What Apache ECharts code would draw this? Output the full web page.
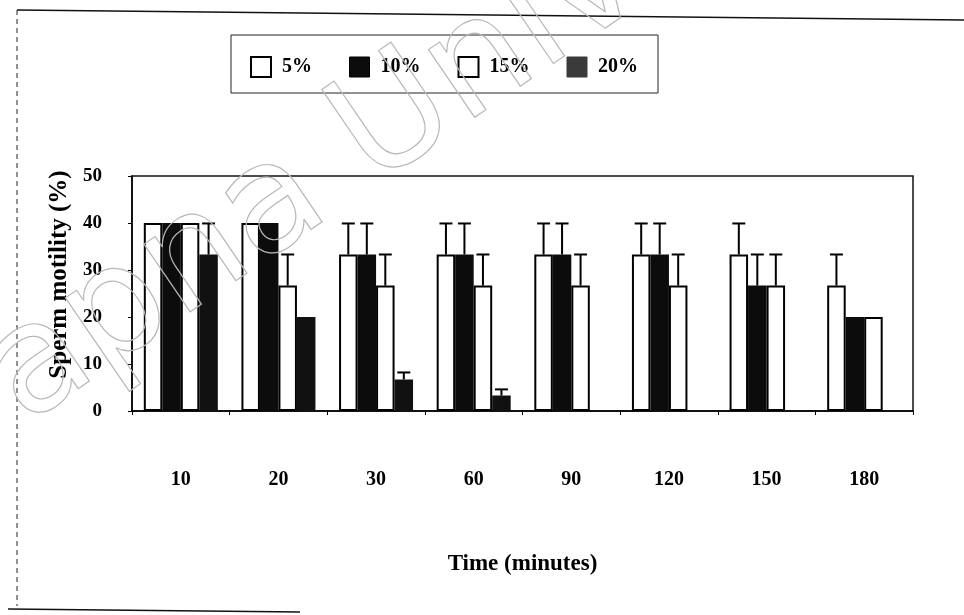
<!DOCTYPE html>
<html>
<head>
<meta charset="utf-8">
<script src="https://cdn.jsdelivr.net/npm/echarts@6/dist/echarts.min.js"></script>
<style>
html,body{margin:0;padding:0;background:#fff;}
#chart{width:964px;height:615px;}
</style>
</head>
<body>
<div id="chart"></div>
<script>
// ---- data ----
const categories = ['10', '20', '30', '60', '90', '120', '150', '180'];
const seriesNames = ['5%', '10%', '15%', '20%'];
const motility5  = [40, 40, 33.3, 33.3, 33.3, 33.3, 33.3, 26.7];
const motility10 = [40, 40, 33.3, 33.3, 33.3, 33.3, 26.7, 20];
const motility15 = [40, 26.7, 26.7, 26.7, 26.7, 26.7, 26.7, 20];
const motility20 = [33.3, 20, 6.7, 3.3, 0, 0, 0, 0];
const err5  = [0, 0, 6.6, 6.6, 6.6, 6.6, 6.6, 6.6];
const err10 = [0, 0, 6.6, 6.6, 6.6, 6.6, 6.6, 0];
const err15 = [0, 6.6, 6.6, 6.6, 6.6, 6.6, 6.6, 0];
const err20 = [6.6, 0, 1.5, 1.3, 0, 0, 0, 0];
const yTicks = [0, 10, 20, 30, 40, 50];

const values = [motility5, motility10, motility15, motility20];
const errors = [err5, err10, err15, err20];
const FONT = '"Liberation Serif", "Times New Roman", serif';
const BAR_W = 18.5;
const fills = ['#ffffff', '#0c0c0c', '#ffffff', '#111111'];

const chart = echarts.init(document.getElementById('chart'), null, {renderer: 'canvas'});

const barSeries = seriesNames.map((name, i) => ({
  name: name,
  type: 'bar',
  data: values[i],
  barWidth: BAR_W,
  barGap: '0%',
  itemStyle: {
    color: fills[i],
    borderColor: '#000',
    borderWidth: (fills[i] === '#ffffff') ? 2 : 0
  },
  z: 2
}));

const errSeries = seriesNames.map((name, i) => ({
  name: name + ' err',
  type: 'custom',
  data: values[i].map((v, k) => [k, v, errors[i][k]]),
  z: 3,
  silent: true,
  renderItem: function (params, api) {
    const k = api.value(0), v = api.value(1), e = api.value(2);
    if (!e) return null;
    const base = api.coord([k, v]);
    const top = api.coord([k, v + e]);
    const x = base[0] + (i - 1.5) * BAR_W;
    const cap = 6.5;
    const style = {stroke: '#000', lineWidth: 2};
    return {
      type: 'group',
      children: [
        {type: 'line', shape: {x1: x, y1: base[1], x2: x, y2: top[1]}, style: style},
        {type: 'line', shape: {x1: x - cap, y1: top[1], x2: x + cap, y2: top[1]}, style: style}
      ]
    };
  }
}));

const option = {
  backgroundColor: '#ffffff',
  animation: false,
  textStyle: {fontFamily: FONT},
  grid: {left: 132, right: 51, top: 176, bottom: 204, show: true, borderColor: '#111', borderWidth: 1.5},
  legend: {
    left: 231, top: 35,
    orient: 'horizontal',
    padding: [21, 20, 15, 19],
    itemWidth: 20, itemHeight: 20,
    itemGap: 37,
    borderColor: '#222', borderWidth: 1,
    textStyle: {fontFamily: FONT, fontWeight: 'bold', fontSize: 20, color: '#000', padding: [0, 0, 0, 6]},
    data: [
      {name: '5%', icon: 'rect', itemStyle: {color: '#fff', borderColor: '#000', borderWidth: 2}},
      {name: '10%', icon: 'rect', itemStyle: {color: '#0c0c0c', borderColor: '#000', borderWidth: 1}},
      {name: '15%', icon: 'rect', itemStyle: {color: '#fff', borderColor: '#000', borderWidth: 2}},
      {name: '20%', icon: 'rect', itemStyle: {color: '#3a3a3a', borderColor: '#3a3a3a', borderWidth: 1}}
    ]
  },
  xAxis: {
    type: 'category',
    data: categories,
    boundaryGap: true,
    name: 'Time (minutes)',
    nameLocation: 'middle',
    nameGap: 142,
    nameTextStyle: {fontFamily: FONT, fontWeight: 'bold', fontSize: 23, color: '#000'},
    axisLine: {lineStyle: {color: '#000', width: 1.5}},
    axisTick: {show: true, length: 4, lineStyle: {color: '#000'}},
    axisLabel: {margin: 59, fontFamily: FONT, fontWeight: 'bold', fontSize: 20, color: '#000'}
  },
  yAxis: {
    type: 'value',
    min: 0, max: 50, interval: 10,
    name: 'Sperm motility (%)',
    nameLocation: 'middle',
    nameGap: 56,
    nameTextStyle: {fontFamily: FONT, fontWeight: 'bold', fontSize: 25, color: '#000', padding: [0, 0, 0, 38]},
    axisLine: {show: true, lineStyle: {color: '#000', width: 1.5}},
    axisTick: {show: true, length: 4, lineStyle: {color: '#000'}},
    splitLine: {show: false},
    axisLabel: {margin: 30, fontFamily: FONT, fontWeight: 'bold', fontSize: 19, color: '#000',
      formatter: function (v) { return yTicks.indexOf(v) >= 0 ? String(v) : ''; }}
  },
  graphic: [
    {type: 'line', shape: {x1: 17, y1: 10, x2: 964, y2: 20}, style: {stroke: '#111', lineWidth: 1.5}, z: 10},
    {type: 'line', shape: {x1: 17, y1: 10, x2: 17, y2: 606}, style: {stroke: '#222', lineWidth: 1, lineDash: [5, 4]}, z: 10},
    {type: 'line', shape: {x1: 8, y1: 609, x2: 300, y2: 612}, style: {stroke: '#111', lineWidth: 1.5}, z: 10},
    {type: 'text', rotation: 0.6, originX: 0, originY: 0,
      x: 45, y: 455,
      style: {text: 'apna Univ', fontSize: 150, fontFamily: '"DejaVu Sans", sans-serif',
        fill: 'rgba(0,0,0,0)', stroke: '#b8b8b8', lineWidth: 1.2, textVerticalAlign: 'bottom'},
      z: 20, silent: true}
  ],
  series: barSeries.concat(errSeries)
};
chart.setOption(option);
</script>
</body>
</html>
